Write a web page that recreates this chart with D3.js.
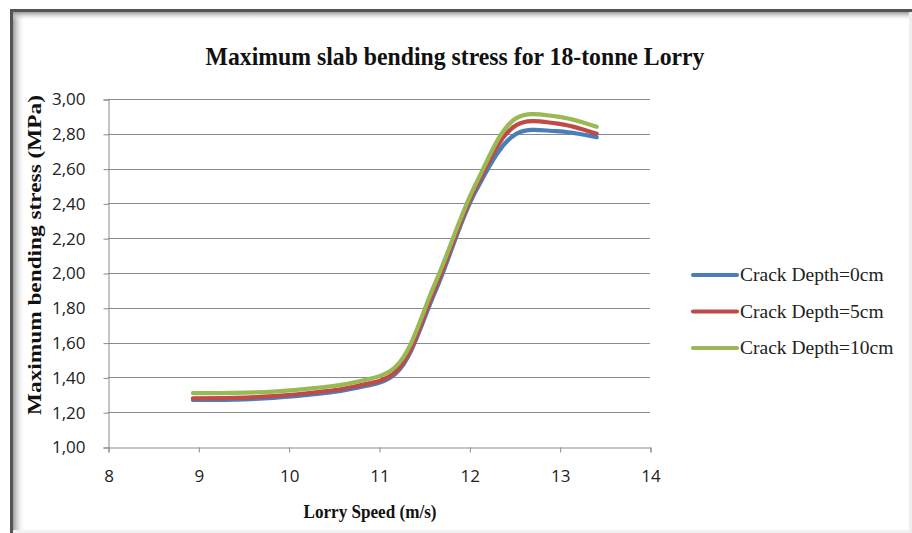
<!DOCTYPE html>
<html>
<head>
<meta charset="utf-8">
<script src="https://cdn.jsdelivr.net/npm/d3@7"></script>
<style>
  html, body { margin: 0; padding: 0; background: #fff; }
  svg { display: block; }
</style>
</head>
<body>
<svg id="chart" width="912" height="533"></svg>
<script>
// Lorry speeds (m/s): 20 to 30 mph in 1 mph steps
const speeds = [8.94, 9.39, 9.83, 10.28, 10.73, 11.18, 11.62, 12.07, 12.52, 12.96, 13.41];

// Maximum slab bending stress (MPa) per crack depth
const depth0  = [1.27, 1.272, 1.282, 1.303, 1.338, 1.42, 1.89, 2.47, 2.80, 2.815, 2.78];
const depth5  = [1.28, 1.282, 1.292, 1.313, 1.348, 1.43, 1.91, 2.49, 2.85, 2.86, 2.80];
const depth10 = [1.31, 1.311, 1.318, 1.338, 1.372, 1.46, 1.94, 2.51, 2.89, 2.90, 2.84];

const seriesNames  = ["Crack Depth=0cm", "Crack Depth=5cm", "Crack Depth=10cm"];
const seriesColors = ["#4A7EBB", "#BE4B48", "#98B954"];
const xTicks = [8, 9, 10, 11, 12, 13, 14];
const yTicks = [1.0, 1.2, 1.4, 1.6, 1.8, 2.0, 2.2, 2.4, 2.6, 2.8, 3.0];

const titleText = "Maximum slab bending stress for 18-tonne Lorry";
const xTitle = "Lorry Speed (m/s)";
const yTitle = "Maximum bending stress (MPa)";

const svg = d3.select("#chart");
const W = 912, H = 533;

// Frame with a soft inner shadow along the left and top edges
const defs = svg.append("defs");
const gl = defs.append("linearGradient").attr("id", "shadeL").attr("x1", 0).attr("x2", 1).attr("y1", 0).attr("y2", 0);
gl.append("stop").attr("offset", 0).attr("stop-color", "#9a9a9a");
gl.append("stop").attr("offset", 1).attr("stop-color", "#ffffff").attr("stop-opacity", 0);
const gt = defs.append("linearGradient").attr("id", "shadeT").attr("x1", 0).attr("x2", 0).attr("y1", 0).attr("y2", 1);
gt.append("stop").attr("offset", 0).attr("stop-color", "#9a9a9a");
gt.append("stop").attr("offset", 1).attr("stop-color", "#ffffff").attr("stop-opacity", 0);

svg.append("rect").attr("x", 13).attr("y", 12).attr("width", 12).attr("height", H - 12).attr("fill", "url(#shadeL)");
svg.append("rect").attr("x", 13).attr("y", 12).attr("width", W - 13).attr("height", 9).attr("fill", "url(#shadeT)");
svg.append("rect").attr("x", 10).attr("y", 9).attr("width", 3).attr("height", H - 9).attr("fill", "#545454");
svg.append("rect").attr("x", 10).attr("y", 9).attr("width", W - 10).attr("height", 3).attr("fill", "#545454");
svg.append("rect").attr("x", W - 3).attr("y", 12).attr("width", 3).attr("height", H - 12).attr("fill", "#eeeeee");
svg.append("rect").attr("x", 13).attr("y", H - 3).attr("width", W - 16).attr("height", 3).attr("fill", "#f2f2f2");

// Plot area
const plot = { left: 108, right: 650, top: 99, bottom: 447 };
const x = d3.scaleLinear().domain([8, 14]).range([plot.left, plot.right]);
const y = d3.scaleLinear().domain([1, 3]).range([plot.bottom, plot.top]);

// Horizontal gridlines
svg.append("g")
  .selectAll("line")
  .data(yTicks.filter(v => v > 1))
  .join("line")
  .attr("x1", plot.left).attr("x2", plot.right)
  .attr("y1", d => Math.round(y(d)) + 0.5).attr("y2", d => Math.round(y(d)) + 0.5)
  .attr("stroke", "#8a8a8a").attr("stroke-width", 1);

const tickFont = "'Open Sans', 'Liberation Sans', sans-serif";

// Y axis
const yAxis = svg.append("g")
  .attr("transform", `translate(${plot.left + 0.5},0.5)`)
  .call(d3.axisLeft(y).tickValues(yTicks).tickSize(5).tickPadding(18)
    .tickFormat(d => d3.format(".2f")(d).replace(".", ",")));
// X axis
const xAxis = svg.append("g")
  .attr("transform", `translate(0.5,${plot.bottom + 0.5})`)
  .call(d3.axisBottom(x).tickValues(xTicks).tickSize(5).tickPadding(17).tickFormat(d3.format("d")));

[yAxis, xAxis].forEach(a => {
  a.select(".domain").attr("stroke", "#8a8a8a");
  a.selectAll(".tick line").attr("stroke", "#8a8a8a");
  a.selectAll(".tick text")
    .attr("fill", "#222")
    .style("font-family", tickFont)
    .style("font-size", "17px");
});
xAxis.selectAll(".tick text").attr("dy", "0.71em");

// Series lines, smoothed
const lineGen = d3.line()
  .x((d, i) => x(speeds[i]))
  .y(d => y(d))
  .curve(d3.curveCatmullRom.alpha(0.5));

const allSeries = [depth0, depth5, depth10];
svg.append("g")
  .selectAll("path")
  .data(allSeries)
  .join("path")
  .attr("d", d => lineGen(d))
  .attr("fill", "none")
  .attr("stroke", (d, i) => seriesColors[i])
  .attr("stroke-width", 4.2)
  .attr("stroke-linejoin", "round")
  .attr("stroke-linecap", "round");

const serif = "'Liberation Serif', 'Times New Roman', serif";

// Title
svg.append("text")
  .attr("transform", "translate(455,65) scale(1,1.2)")
  .attr("text-anchor", "middle")
  .attr("textLength", 499).attr("lengthAdjust", "spacingAndGlyphs")
  .style("font-family", serif).style("font-weight", "bold").style("font-size", "21px")
  .attr("fill", "#111")
  .text(titleText);

// Axis titles
svg.append("text")
  .attr("transform", "translate(370,518) scale(1,1.2)")
  .attr("text-anchor", "middle")
  .attr("textLength", 133).attr("lengthAdjust", "spacingAndGlyphs")
  .style("font-family", serif).style("font-weight", "bold").style("font-size", "16px")
  .attr("fill", "#111")
  .text(xTitle);

svg.append("text")
  .attr("transform", "translate(41,255) rotate(-90)")
  .attr("text-anchor", "middle")
  .attr("textLength", 320).attr("lengthAdjust", "spacingAndGlyphs")
  .style("font-family", serif).style("font-weight", "bold").style("font-size", "18px")
  .attr("fill", "#111")
  .text(yTitle);

// Legend
const legend = svg.append("g").selectAll("g")
  .data(seriesNames)
  .join("g")
  .attr("transform", (d, i) => `translate(693,${275 + i * 36.5})`);
legend.append("line")
  .attr("x1", 0).attr("x2", 44).attr("y1", 0).attr("y2", 0)
  .attr("stroke", (d, i) => seriesColors[i])
  .attr("stroke-width", 4.2).attr("stroke-linecap", "round");
legend.append("text")
  .attr("x", 47).attr("y", 6)
  .style("font-family", serif).style("font-size", "19.5px")
  .attr("fill", "#222")
  .text(d => d);
</script>
</body>
</html>
